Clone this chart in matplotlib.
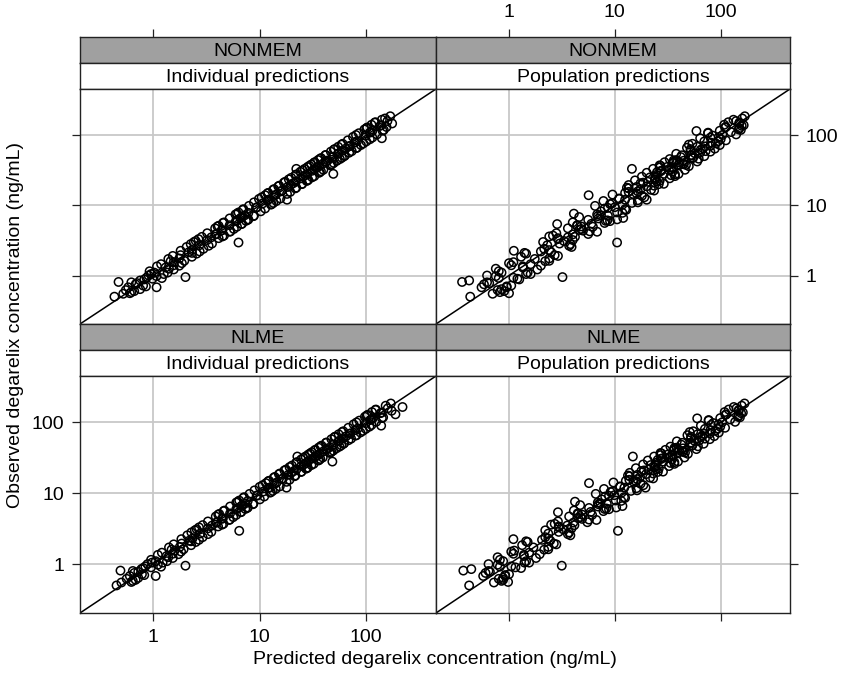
import matplotlib
matplotlib.use("Agg")
import matplotlib.pyplot as plt
from matplotlib.ticker import NullLocator, FixedLocator, FixedFormatter

plt.rcParams['font.family'] = ['Liberation Sans', 'DejaVu Sans']

# ---------------- data (ng/mL) ----------------
observed = [
    0.50, 0.55, 0.81, 0.60, 0.68, 0.72, 0.78, 0.85, 0.62, 0.90,
    0.95, 0.68, 0.58, 0.98, 1.05, 0.75, 0.88, 1.10, 1.00, 0.93,
    1.15, 1.22, 1.30, 1.38, 1.45, 1.55, 1.62, 1.72, 1.85, 1.95,
    2.05, 2.25, 2.15, 2.40, 2.55, 2.70, 2.85, 3.00, 3.20, 3.40,
    2.95, 3.55, 3.70, 3.85, 4.00, 4.20, 4.45, 4.70, 4.95, 5.20,
    5.45, 5.70, 5.95, 6.20, 6.50, 6.80, 7.10, 7.40, 7.80, 8.20,
    8.60, 9.00, 9.40, 9.80, 10.2, 10.6, 11.0, 11.5, 12.0, 13.9,
    12.5, 13.0, 12.0, 14.2, 14.8, 15.5, 16.2, 17.0, 17.8, 7.60,
    18.6, 19.4, 20.2, 21.0, 21.8, 22.6, 23.4, 24.2, 25.0, 5.40,
    26.0, 27.0, 28.0, 29.0, 30.0, 31.0, 32.0, 33.0, 34.0, 28.0,
    35.0, 36.0, 37.0, 38.0, 39.0, 40.0, 41.0, 42.0, 43.0, 44.0,
    45.5, 47.0, 48.5, 50.0, 52.0, 54.0, 56.0, 58.0, 60.0, 33.0,
    62.0, 64.0, 66.0, 68.0, 70.0, 72.0, 75.0, 78.0, 81.0, 84.0,
    87.0, 90.0, 94.0, 98.0, 102., 106., 110., 115., 120., 114.,
    125., 130., 135., 140., 146., 152., 158., 165., 172., 185.,
    23.0, 25.5, 27.5, 30.5, 32.5, 36.5, 38.5, 41.5, 46.0, 51.0,
    3.10, 3.60, 4.35, 5.10, 6.00, 7.20, 8.80, 10.4, 11.8, 15.0,
    65.0, 73.0, 82.0, 92.0, 100., 108., 118., 128., 138., 150.,
    1.50, 1.90, 2.30, 2.65, 3.30, 3.90, 4.60, 5.60, 6.60, 6.30,
    0.80, 0.70, 1.25, 1.60, 2.10, 0.92, 1.05, 0.64, 1.40, 0.56,
    15.8, 17.4, 19.0, 20.6, 22.2, 24.6, 26.8, 29.5, 31.5, 34.5,
    37.5, 40.5, 43.5, 47.5, 51.5, 55.0, 59.0, 63.0, 69.0, 76.0,
    1.10, 1.35, 1.75, 2.20, 2.80, 3.50, 4.25, 5.00, 6.10, 7.00,
    7.90, 9.20, 10.8, 12.3, 13.6, 14.5, 16.6, 18.2, 20.0, 21.6,
]

ipred_nonmem = [
    0.43, 0.52, 0.47, 0.66, 0.58, 0.80, 0.70, 0.75, 0.55, 0.98,
    2.00, 1.07, 0.62, 1.07, 0.95, 0.68, 0.82, 1.02, 0.90, 0.86,
    0.92, 1.55, 1.30, 1.75, 1.18, 1.55, 1.95, 1.38, 2.30, 1.80,
    2.55, 1.80, 2.15, 2.95, 2.05, 2.70, 3.55, 2.40, 3.20, 4.10,
    6.30, 2.85, 4.60, 3.85, 3.20, 5.20, 4.45, 3.80, 6.10, 5.20,
    6.80, 4.60, 5.95, 7.70, 5.20, 6.80, 8.80, 5.90, 7.80, 10.2,
    6.90, 11.2, 9.40, 7.90, 12.7, 10.6, 8.80, 14.3, 12.0, 11.2,
    15.6, 10.4, 18.0, 14.2, 11.8, 19.3, 16.2, 13.6, 22.0, 6.10,
    14.9, 19.4, 25.0, 16.8, 21.8, 28.0, 18.7, 24.2, 31.0, 6.70,
    32.5, 21.6, 28.0, 36.0, 24.0, 31.0, 39.5, 26.4, 34.0, 49.0,
    28.0, 36.0, 46.0, 30.4, 39.0, 49.5, 32.8, 42.0, 53.0, 35.2,
    56.5, 37.6, 48.5, 62.0, 41.6, 54.0, 69.0, 46.4, 60.0, 22.0,
    49.6, 64.0, 82.0, 54.4, 70.0, 89.0, 60.0, 78.0, 100., 67.0,
    108., 140., 75.0, 98.0, 126., 85.0, 110., 142., 96.0, 114.,
    100., 155., 135., 112., 175., 122., 158., 140., 150., 168.,
    28.5, 25.5, 22.0, 37.5, 32.5, 29.2, 47.5, 41.5, 36.8, 63.0,
    2.50, 4.45, 4.35, 4.10, 7.40, 7.20, 7.00, 12.9, 11.8, 12.0,
    80.0, 58.5, 82.0, 114., 80.0, 108., 146., 102., 138., 120.,
    1.85, 1.52, 2.30, 3.30, 2.65, 3.90, 5.70, 4.50, 6.60, 7.80,
    0.62, 0.85, 1.40, 1.45, 2.30, 1.20, 1.25, 0.75, 1.55, 0.60,
    15.8, 21.5, 15.2, 20.6, 27.5, 19.7, 26.8, 36.5, 25.2, 34.5,
    46.5, 32.4, 43.5, 59.0, 41.2, 55.0, 73.0, 50.4, 69.0, 94.0,
    1.36, 1.08, 1.75, 2.72, 2.24, 3.50, 5.30, 4.00, 6.10, 8.70,
    6.30, 9.20, 13.4, 9.80, 13.6, 18.0, 13.3, 18.2, 24.8, 17.3,
]

ipred_nlme = [
    0.45, 0.50, 0.49, 0.68, 0.60, 0.78, 0.72, 0.77, 0.56, 0.95,
    2.00, 1.05, 0.64, 1.10, 0.97, 0.66, 0.80, 1.05, 0.88, 0.84,
    0.95, 1.52, 1.33, 1.72, 1.20, 1.58, 1.92, 1.40, 2.26, 1.84,
    2.50, 1.83, 2.18, 2.90, 2.08, 2.75, 3.50, 2.45, 3.25, 4.05,
    6.40, 2.90, 4.55, 3.90, 3.25, 5.15, 4.50, 3.85, 6.00, 5.25,
    6.70, 4.65, 6.00, 7.60, 5.25, 6.90, 8.70, 6.00, 7.70, 10.0,
    7.00, 11.0, 9.50, 8.00, 12.5, 10.8, 8.90, 14.1, 12.2, 11.4,
    15.4, 10.6, 17.8, 14.4, 12.0, 19.0, 16.5, 13.8, 21.6, 6.20,
    15.1, 19.7, 24.6, 17.0, 22.1, 27.6, 19.0, 24.5, 30.5, 6.60,
    32.0, 21.9, 28.4, 35.5, 24.4, 31.4, 39.0, 26.8, 34.5, 48.0,
    28.4, 36.5, 45.4, 30.8, 39.5, 49.0, 33.2, 42.6, 52.4, 35.6,
    56.0, 38.0, 49.0, 61.2, 42.2, 54.8, 68.0, 47.0, 60.8, 22.5,
    50.2, 64.8, 81.0, 55.0, 71.0, 88.0, 60.8, 79.0, 99.0, 67.8,
    107., 138., 76.0, 99.0, 124., 86.0, 111., 140., 97.0, 115.,
    101., 188., 136., 113., 173., 123., 159., 219., 152., 170.,
    28.2, 25.9, 22.3, 37.0, 33.0, 29.6, 47.0, 42.0, 37.2, 62.0,
    2.55, 4.40, 4.40, 4.15, 7.30, 7.30, 7.10, 12.7, 12.0, 12.2,
    79.0, 59.2, 83.0, 112., 81.0, 109., 144., 103., 140., 122.,
    1.82, 1.55, 2.33, 3.26, 2.68, 3.95, 5.62, 4.56, 6.68, 7.70,
    0.64, 0.82, 1.38, 1.48, 2.25, 1.18, 1.22, 0.72, 1.52, 0.62,
    16.0, 21.2, 15.4, 20.9, 27.1, 20.0, 27.2, 36.0, 25.6, 35.0,
    46.0, 32.8, 44.1, 58.3, 41.8, 55.8, 72.0, 51.0, 70.0, 93.0,
    1.34, 1.10, 1.77, 2.68, 2.27, 3.55, 5.22, 4.06, 6.18, 8.60,
    6.40, 9.33, 13.2, 9.95, 13.8, 17.8, 13.5, 18.5, 24.4, 17.6,
]

pred_nonmem = [
    0.43, 0.70, 0.36, 0.90, 0.55, 1.05, 0.65, 0.42, 0.78, 1.20,
    3.20, 0.95, 0.82, 0.75, 1.45, 0.58, 1.25, 0.85, 0.62, 1.10,
    0.80, 1.85, 1.35, 2.00, 1.60, 1.10, 2.40, 1.75, 1.30, 2.70,
    1.45, 1.11, 2.50, 2.15, 3.90, 2.30, 3.00, 2.10, 4.00, 2.90,
    10.5, 4.20, 2.60, 4.00, 2.80, 6.80, 4.60, 3.60, 6.20, 4.40,
    6.00, 4.00, 9.00, 5.60, 7.00, 4.60, 8.60, 6.80, 11.8, 7.40,
    12.8, 8.00, 10.0, 6.50, 11.8, 9.40, 16.5, 7.80, 12.5, 5.65,
    11.0, 19.0, 20.0, 9.50, 16.0, 13.5, 23.5, 17.5, 13.0, 4.10,
    20.0, 13.5, 29.0, 18.5, 25.0, 15.5, 24.0, 33.0, 21.5, 2.85,
    37.0, 24.5, 29.0, 20.0, 35.0, 27.5, 46.0, 23.0, 35.5, 40.0,
    31.0, 50.0, 26.5, 40.0, 45.0, 35.5, 29.5, 60.0, 44.5, 38.0,
    33.0, 54.0, 42.0, 70.0, 53.0, 38.0, 64.0, 80.0, 52.0, 14.5,
    65.0, 88.0, 48.0, 60.0, 80.0, 98.0, 54.0, 81.0, 70.0, 112.,
    100., 64.0, 96.0, 84.0, 140., 76.0, 125., 98.0, 148., 59.0,
    150., 112., 158., 108., 150., 118., 140., 132., 160., 169.,
    24.0, 18.0, 37.0, 27.0, 34.0, 27.0, 44.0, 36.0, 62.0, 52.0,
    3.30, 2.40, 5.00, 4.40, 8.20, 7.40, 12.5, 9.00, 16.5, 12.5,
    68.0, 50.0, 95.0, 80.0, 104., 76.0, 155., 110., 165., 150.,
    1.00, 2.90, 2.40, 3.70, 2.90, 5.60, 4.80, 8.00, 12.0, 10.5,
    0.62, 0.95, 0.75, 2.20, 1.40, 0.80, 1.60, 0.85, 1.05, 1.00,
    16.5, 13.5, 23.5, 17.5, 26.5, 24.0, 34.0, 25.0, 32.5, 26.5,
    47.0, 41.0, 36.0, 55.0, 43.0, 57.0, 72.0, 52.0, 71.0, 90.0,
    1.50, 1.35, 2.40, 2.00, 3.80, 3.60, 5.80, 4.80, 8.50, 6.90,
    10.5, 8.60, 14.5, 11.0, 18.0, 14.8, 22.0, 16.0, 26.0, 20.5,
]

pred_nlme = [
    0.42, 0.72, 0.37, 0.88, 0.57, 1.00, 0.66, 0.44, 0.80, 1.15,
    3.15, 0.92, 0.85, 0.78, 1.40, 0.60, 1.30, 0.88, 0.64, 1.05,
    0.82, 1.80, 1.38, 1.95, 1.55, 1.12, 2.35, 1.70, 1.33, 2.65,
    1.50, 1.10, 2.45, 2.20, 3.80, 2.35, 2.95, 2.20, 3.90, 2.95,
    10.7, 4.15, 2.70, 4.05, 2.90, 6.70, 4.50, 3.70, 6.10, 4.45,
    5.90, 4.10, 8.80, 5.70, 6.90, 4.70, 8.40, 6.90, 11.5, 7.50,
    12.5, 8.10, 9.90, 6.60, 11.6, 9.50, 16.2, 7.90, 12.3, 5.70,
    11.2, 18.6, 19.5, 9.70, 15.8, 13.7, 23.0, 17.3, 13.3, 4.20,
    19.7, 13.8, 28.5, 18.8, 24.6, 15.8, 23.7, 32.5, 21.8, 2.90,
    36.5, 24.8, 28.7, 20.5, 34.6, 27.8, 45.5, 23.5, 35.0, 39.5,
    31.4, 49.0, 27.0, 39.6, 44.5, 35.8, 30.0, 59.0, 44.0, 38.4,
    33.5, 53.5, 42.5, 69.0, 52.5, 38.5, 63.0, 79.0, 52.5, 14.8,
    64.5, 87.0, 48.5, 60.5, 79.0, 96.0, 55.0, 80.0, 71.0, 110.,
    99.0, 65.0, 95.0, 85.0, 137., 77.0, 123., 99.0, 146., 60.0,
    148., 113., 156., 109., 148., 119., 141., 133., 158., 168.,
    23.7, 18.5, 36.5, 27.3, 33.6, 27.5, 43.5, 36.4, 61.0, 51.5,
    3.25, 2.50, 4.90, 4.50, 8.00, 7.30, 12.2, 9.10, 16.0, 12.7,
    67.0, 51.0, 94.0, 81.0, 103., 77.0, 152., 111., 162., 148.,
    1.05, 2.80, 2.35, 3.60, 2.95, 5.50, 4.75, 7.80, 11.8, 10.3,
    0.64, 0.92, 0.78, 2.15, 1.45, 0.82, 1.55, 0.88, 1.10, 0.98,
    16.3, 13.8, 23.0, 17.8, 26.0, 24.3, 33.5, 25.4, 32.0, 27.0,
    46.0, 40.6, 36.5, 54.0, 43.5, 56.5, 71.0, 52.5, 70.0, 89.0,
    1.45, 1.38, 2.35, 2.05, 3.70, 3.55, 5.70, 4.90, 8.30, 7.00,
    10.2, 8.80, 14.2, 11.2, 17.5, 15.0, 21.5, 16.3, 25.5, 20.8,
]

methods = ["NONMEM", "NLME"]
prediction_types = ["Individual predictions", "Population predictions"]
panel_x = {("NONMEM", 0): ipred_nonmem, ("NONMEM", 1): pred_nonmem,
           ("NLME", 0): ipred_nlme, ("NLME", 1): pred_nlme}
tick_values = [1, 10, 100]
tick_labels = ["1", "10", "100"]
xlabel = "Predicted degarelix concentration (ng/mL)"
ylabel = "Observed degarelix concentration (ng/mL)"

# ---------------- layout (pixels) ----------------
W, H = 844, 674
fig = plt.figure(figsize=(W / 100, H / 100), dpi=100)


def box(x0, y0, x1, y1):
    return [x0 / W, 1 - y1 / H, (x1 - x0) / W, (y1 - y0) / H]


cols = [(80, 436), (436, 790)]
rows = [dict(g=(37, 63), w=(63, 89), p=(89, 324)),
        dict(g=(324, 350), w=(350, 376), p=(376, 613))]
lims = (10 ** -0.69, 10 ** 2.655)
grid_col = "#c8c8c8"
strip_grey = "#a0a0a0"
FS = 14
tick_kw = dict(direction="out", length=5.5, width=0.9, color="#222222",
               labelsize=FS, pad=6)


def log_axes(ax):
    ax.set_xscale("log")
    ax.set_yscale("log")
    ax.set_xlim(lims)
    ax.set_ylim(lims)
    for axis in (ax.xaxis, ax.yaxis):
        axis.set_major_locator(FixedLocator(tick_values))
        axis.set_major_formatter(FixedFormatter(tick_labels))
        axis.set_minor_locator(NullLocator())


for r, method in enumerate(methods):
    for c, ptype in enumerate(prediction_types):
        x0, x1 = cols[c]
        rw = rows[r]
        # strips
        gax = fig.add_axes(box(x0, rw["g"][0], x1, rw["g"][1]))
        gax.set_facecolor(strip_grey)
        gax.text(0.5, 0.45, method, ha="center", va="center",
                 fontsize=FS, transform=gax.transAxes)
        wax = fig.add_axes(box(x0, rw["w"][0], x1, rw["w"][1]))
        wax.set_facecolor("white")
        wax.text(0.5, 0.45, ptype, ha="center", va="center",
                 fontsize=FS, transform=wax.transAxes)
        for sax in (gax, wax):
            for sp in sax.spines.values():
                sp.set_linewidth(1.0)
                sp.set_color("#222222")
        wax.set_xticks([])
        wax.set_yticks([])
        log_axes(gax)
        gax.set_yticks([])
        if r == 0:
            gax.tick_params(axis="x", which="both", top=True, bottom=False,
                            labeltop=(c == 1), labelbottom=False, **tick_kw)
        else:
            gax.set_xticks([])

        # panel
        ax = fig.add_axes(box(x0, rw["p"][0], x1, rw["p"][1]))
        log_axes(ax)
        ax.grid(True, which="major", color=grid_col, linewidth=1.3, zorder=0)
        ax.set_axisbelow(True)
        ax.plot(lims, lims, color="black", linewidth=1.1, zorder=2)
        ax.scatter(panel_x[(method, c)], observed, s=36, facecolors="none",
                   edgecolors="black", linewidths=1.1, zorder=3)
        for sp in ax.spines.values():
            sp.set_linewidth(1.0)
            sp.set_color("#222222")
        ax.tick_params(axis="x", top=False, bottom=(r == 1),
                       labelbottom=(r == 1 and c == 0), labeltop=False, **tick_kw)
        ax.tick_params(axis="y", left=(c == 0), right=(c == 1),
                       labelleft=(c == 0 and r == 1),
                       labelright=(c == 1 and r == 0), **tick_kw)

fig.text(435 / W, 1 - 660 / H, xlabel, ha="center", va="center", fontsize=FS)
fig.text(16 / W, 1 - 325 / H, ylabel, ha="center", va="center",
         rotation=90, fontsize=FS)

fig.savefig("out.png", dpi=100, facecolor="white")
